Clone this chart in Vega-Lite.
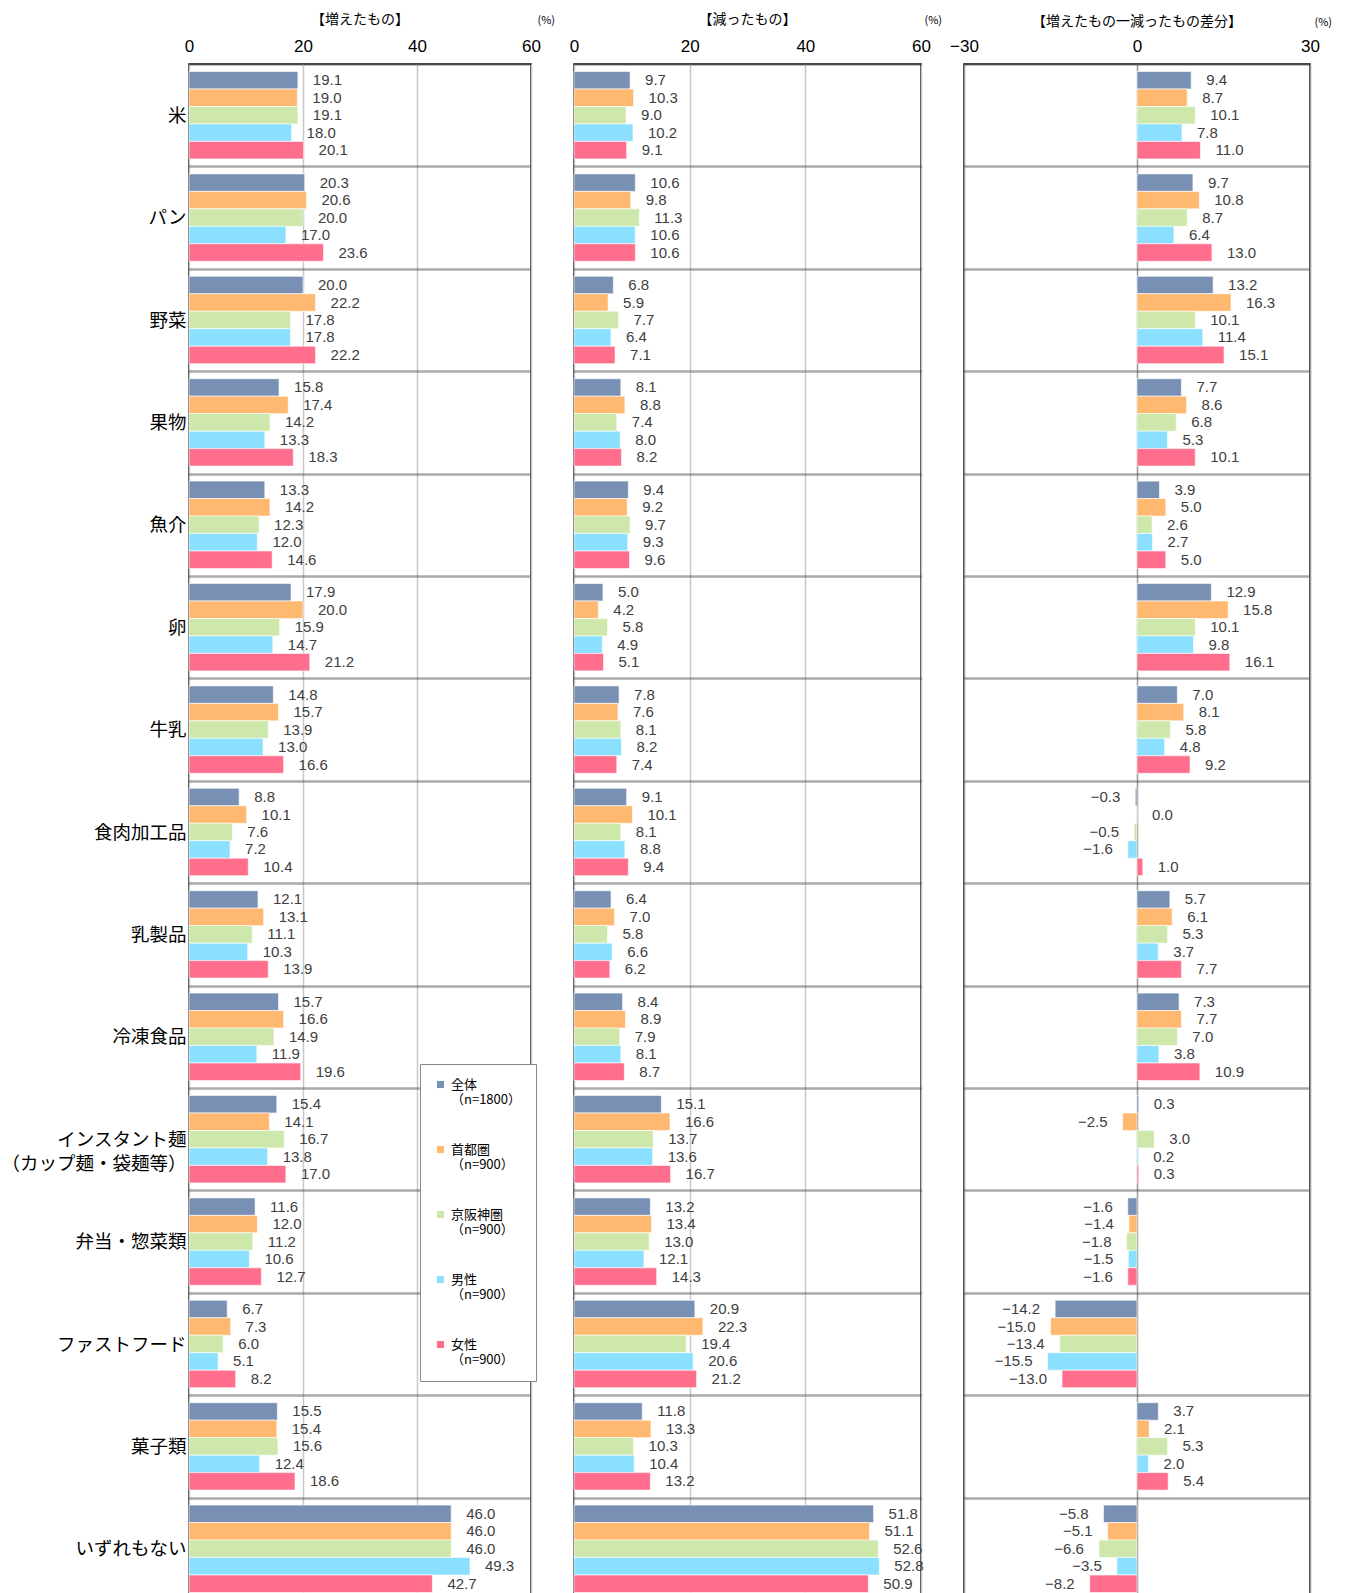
{
"$schema": "https://vega.github.io/schema/vega-lite/v6.json",
"padding": {"left": 0, "top": 12, "right": 5, "bottom": 0},
"bounds": "flush",
"spacing": 43,
"config": {
  "view": {"stroke": "#000", "strokeWidth": 1.5},
  "font": "Noto Sans CJK JP",
  "axisX": {"labelFont": "Liberation Sans", "labelFontSize": 17, "labelColor": "#000", "ticks": false, "domain": false, "labelPadding": 9, "grid": true, "gridColor": "#c8c8c8", "gridWidth": 1.5, "orient": "top", "labelFlush": false, "titleFontSize": 11, "titleFontWeight": "normal", "titleColor": "#000", "titleAlign": "left", "titleBaseline": "middle", "titleAnchor": null},
  "axisY": {"title": null, "ticks": false, "domain": false, "grid": true, "tickBand": "extent", "gridColor": "#555", "gridDash": [1, 1], "gridWidth": 2.5},
  "title": {"fontSize": 14, "fontWeight": "normal", "color": "#000", "anchor": "middle", "offset": -13},
  "text": {"font": "Liberation Sans", "fontSize": 15, "color": "#404040", "baseline": "middle"}
},
"resolve": {"scale": {"x": "independent", "y": "independent", "color": "independent", "yOffset": "independent"}},
"datasets": {
"inc": [
{"cat":"米","grp":"全体","val":19.1},{"cat":"米","grp":"首都圏","val":19.0},{"cat":"米","grp":"京阪神圏","val":19.1},{"cat":"米","grp":"男性","val":18.0},{"cat":"米","grp":"女性","val":20.1},
{"cat":"パン","grp":"全体","val":20.3},{"cat":"パン","grp":"首都圏","val":20.6},{"cat":"パン","grp":"京阪神圏","val":20.0},{"cat":"パン","grp":"男性","val":17.0},{"cat":"パン","grp":"女性","val":23.6},
{"cat":"野菜","grp":"全体","val":20.0},{"cat":"野菜","grp":"首都圏","val":22.2},{"cat":"野菜","grp":"京阪神圏","val":17.8},{"cat":"野菜","grp":"男性","val":17.8},{"cat":"野菜","grp":"女性","val":22.2},
{"cat":"果物","grp":"全体","val":15.8},{"cat":"果物","grp":"首都圏","val":17.4},{"cat":"果物","grp":"京阪神圏","val":14.2},{"cat":"果物","grp":"男性","val":13.3},{"cat":"果物","grp":"女性","val":18.3},
{"cat":"魚介","grp":"全体","val":13.3},{"cat":"魚介","grp":"首都圏","val":14.2},{"cat":"魚介","grp":"京阪神圏","val":12.3},{"cat":"魚介","grp":"男性","val":12.0},{"cat":"魚介","grp":"女性","val":14.6},
{"cat":"卵","grp":"全体","val":17.9},{"cat":"卵","grp":"首都圏","val":20.0},{"cat":"卵","grp":"京阪神圏","val":15.9},{"cat":"卵","grp":"男性","val":14.7},{"cat":"卵","grp":"女性","val":21.2},
{"cat":"牛乳","grp":"全体","val":14.8},{"cat":"牛乳","grp":"首都圏","val":15.7},{"cat":"牛乳","grp":"京阪神圏","val":13.9},{"cat":"牛乳","grp":"男性","val":13.0},{"cat":"牛乳","grp":"女性","val":16.6},
{"cat":"食肉加工品","grp":"全体","val":8.8},{"cat":"食肉加工品","grp":"首都圏","val":10.1},{"cat":"食肉加工品","grp":"京阪神圏","val":7.6},{"cat":"食肉加工品","grp":"男性","val":7.2},{"cat":"食肉加工品","grp":"女性","val":10.4},
{"cat":"乳製品","grp":"全体","val":12.1},{"cat":"乳製品","grp":"首都圏","val":13.1},{"cat":"乳製品","grp":"京阪神圏","val":11.1},{"cat":"乳製品","grp":"男性","val":10.3},{"cat":"乳製品","grp":"女性","val":13.9},
{"cat":"冷凍食品","grp":"全体","val":15.7},{"cat":"冷凍食品","grp":"首都圏","val":16.6},{"cat":"冷凍食品","grp":"京阪神圏","val":14.9},{"cat":"冷凍食品","grp":"男性","val":11.9},{"cat":"冷凍食品","grp":"女性","val":19.6},
{"cat":"インスタント麺|（カップ麺・袋麺等）","grp":"全体","val":15.4},{"cat":"インスタント麺|（カップ麺・袋麺等）","grp":"首都圏","val":14.1},{"cat":"インスタント麺|（カップ麺・袋麺等）","grp":"京阪神圏","val":16.7},{"cat":"インスタント麺|（カップ麺・袋麺等）","grp":"男性","val":13.8},{"cat":"インスタント麺|（カップ麺・袋麺等）","grp":"女性","val":17.0},
{"cat":"弁当・惣菜類","grp":"全体","val":11.6},{"cat":"弁当・惣菜類","grp":"首都圏","val":12.0},{"cat":"弁当・惣菜類","grp":"京阪神圏","val":11.2},{"cat":"弁当・惣菜類","grp":"男性","val":10.6},{"cat":"弁当・惣菜類","grp":"女性","val":12.7},
{"cat":"ファストフード","grp":"全体","val":6.7},{"cat":"ファストフード","grp":"首都圏","val":7.3},{"cat":"ファストフード","grp":"京阪神圏","val":6.0},{"cat":"ファストフード","grp":"男性","val":5.1},{"cat":"ファストフード","grp":"女性","val":8.2},
{"cat":"菓子類","grp":"全体","val":15.5},{"cat":"菓子類","grp":"首都圏","val":15.4},{"cat":"菓子類","grp":"京阪神圏","val":15.6},{"cat":"菓子類","grp":"男性","val":12.4},{"cat":"菓子類","grp":"女性","val":18.6},
{"cat":"いずれもない","grp":"全体","val":46.0},{"cat":"いずれもない","grp":"首都圏","val":46.0},{"cat":"いずれもない","grp":"京阪神圏","val":46.0},{"cat":"いずれもない","grp":"男性","val":49.3},{"cat":"いずれもない","grp":"女性","val":42.7}
],
"dec": [
{"cat":"米","grp":"全体","val":9.7},{"cat":"米","grp":"首都圏","val":10.3},{"cat":"米","grp":"京阪神圏","val":9.0},{"cat":"米","grp":"男性","val":10.2},{"cat":"米","grp":"女性","val":9.1},
{"cat":"パン","grp":"全体","val":10.6},{"cat":"パン","grp":"首都圏","val":9.8},{"cat":"パン","grp":"京阪神圏","val":11.3},{"cat":"パン","grp":"男性","val":10.6},{"cat":"パン","grp":"女性","val":10.6},
{"cat":"野菜","grp":"全体","val":6.8},{"cat":"野菜","grp":"首都圏","val":5.9},{"cat":"野菜","grp":"京阪神圏","val":7.7},{"cat":"野菜","grp":"男性","val":6.4},{"cat":"野菜","grp":"女性","val":7.1},
{"cat":"果物","grp":"全体","val":8.1},{"cat":"果物","grp":"首都圏","val":8.8},{"cat":"果物","grp":"京阪神圏","val":7.4},{"cat":"果物","grp":"男性","val":8.0},{"cat":"果物","grp":"女性","val":8.2},
{"cat":"魚介","grp":"全体","val":9.4},{"cat":"魚介","grp":"首都圏","val":9.2},{"cat":"魚介","grp":"京阪神圏","val":9.7},{"cat":"魚介","grp":"男性","val":9.3},{"cat":"魚介","grp":"女性","val":9.6},
{"cat":"卵","grp":"全体","val":5.0},{"cat":"卵","grp":"首都圏","val":4.2},{"cat":"卵","grp":"京阪神圏","val":5.8},{"cat":"卵","grp":"男性","val":4.9},{"cat":"卵","grp":"女性","val":5.1},
{"cat":"牛乳","grp":"全体","val":7.8},{"cat":"牛乳","grp":"首都圏","val":7.6},{"cat":"牛乳","grp":"京阪神圏","val":8.1},{"cat":"牛乳","grp":"男性","val":8.2},{"cat":"牛乳","grp":"女性","val":7.4},
{"cat":"食肉加工品","grp":"全体","val":9.1},{"cat":"食肉加工品","grp":"首都圏","val":10.1},{"cat":"食肉加工品","grp":"京阪神圏","val":8.1},{"cat":"食肉加工品","grp":"男性","val":8.8},{"cat":"食肉加工品","grp":"女性","val":9.4},
{"cat":"乳製品","grp":"全体","val":6.4},{"cat":"乳製品","grp":"首都圏","val":7.0},{"cat":"乳製品","grp":"京阪神圏","val":5.8},{"cat":"乳製品","grp":"男性","val":6.6},{"cat":"乳製品","grp":"女性","val":6.2},
{"cat":"冷凍食品","grp":"全体","val":8.4},{"cat":"冷凍食品","grp":"首都圏","val":8.9},{"cat":"冷凍食品","grp":"京阪神圏","val":7.9},{"cat":"冷凍食品","grp":"男性","val":8.1},{"cat":"冷凍食品","grp":"女性","val":8.7},
{"cat":"インスタント麺|（カップ麺・袋麺等）","grp":"全体","val":15.1},{"cat":"インスタント麺|（カップ麺・袋麺等）","grp":"首都圏","val":16.6},{"cat":"インスタント麺|（カップ麺・袋麺等）","grp":"京阪神圏","val":13.7},{"cat":"インスタント麺|（カップ麺・袋麺等）","grp":"男性","val":13.6},{"cat":"インスタント麺|（カップ麺・袋麺等）","grp":"女性","val":16.7},
{"cat":"弁当・惣菜類","grp":"全体","val":13.2},{"cat":"弁当・惣菜類","grp":"首都圏","val":13.4},{"cat":"弁当・惣菜類","grp":"京阪神圏","val":13.0},{"cat":"弁当・惣菜類","grp":"男性","val":12.1},{"cat":"弁当・惣菜類","grp":"女性","val":14.3},
{"cat":"ファストフード","grp":"全体","val":20.9},{"cat":"ファストフード","grp":"首都圏","val":22.3},{"cat":"ファストフード","grp":"京阪神圏","val":19.4},{"cat":"ファストフード","grp":"男性","val":20.6},{"cat":"ファストフード","grp":"女性","val":21.2},
{"cat":"菓子類","grp":"全体","val":11.8},{"cat":"菓子類","grp":"首都圏","val":13.3},{"cat":"菓子類","grp":"京阪神圏","val":10.3},{"cat":"菓子類","grp":"男性","val":10.4},{"cat":"菓子類","grp":"女性","val":13.2},
{"cat":"いずれもない","grp":"全体","val":51.8},{"cat":"いずれもない","grp":"首都圏","val":51.1},{"cat":"いずれもない","grp":"京阪神圏","val":52.6},{"cat":"いずれもない","grp":"男性","val":52.8},{"cat":"いずれもない","grp":"女性","val":50.9}
],
"diff": [
{"cat":"米","grp":"全体","val":9.4},{"cat":"米","grp":"首都圏","val":8.7},{"cat":"米","grp":"京阪神圏","val":10.1},{"cat":"米","grp":"男性","val":7.8},{"cat":"米","grp":"女性","val":11.0},
{"cat":"パン","grp":"全体","val":9.7},{"cat":"パン","grp":"首都圏","val":10.8},{"cat":"パン","grp":"京阪神圏","val":8.7},{"cat":"パン","grp":"男性","val":6.4},{"cat":"パン","grp":"女性","val":13.0},
{"cat":"野菜","grp":"全体","val":13.2},{"cat":"野菜","grp":"首都圏","val":16.3},{"cat":"野菜","grp":"京阪神圏","val":10.1},{"cat":"野菜","grp":"男性","val":11.4},{"cat":"野菜","grp":"女性","val":15.1},
{"cat":"果物","grp":"全体","val":7.7},{"cat":"果物","grp":"首都圏","val":8.6},{"cat":"果物","grp":"京阪神圏","val":6.8},{"cat":"果物","grp":"男性","val":5.3},{"cat":"果物","grp":"女性","val":10.1},
{"cat":"魚介","grp":"全体","val":3.9},{"cat":"魚介","grp":"首都圏","val":5.0},{"cat":"魚介","grp":"京阪神圏","val":2.6},{"cat":"魚介","grp":"男性","val":2.7},{"cat":"魚介","grp":"女性","val":5.0},
{"cat":"卵","grp":"全体","val":12.9},{"cat":"卵","grp":"首都圏","val":15.8},{"cat":"卵","grp":"京阪神圏","val":10.1},{"cat":"卵","grp":"男性","val":9.8},{"cat":"卵","grp":"女性","val":16.1},
{"cat":"牛乳","grp":"全体","val":7.0},{"cat":"牛乳","grp":"首都圏","val":8.1},{"cat":"牛乳","grp":"京阪神圏","val":5.8},{"cat":"牛乳","grp":"男性","val":4.8},{"cat":"牛乳","grp":"女性","val":9.2},
{"cat":"食肉加工品","grp":"全体","val":-0.3},{"cat":"食肉加工品","grp":"首都圏","val":0.0},{"cat":"食肉加工品","grp":"京阪神圏","val":-0.5},{"cat":"食肉加工品","grp":"男性","val":-1.6},{"cat":"食肉加工品","grp":"女性","val":1.0},
{"cat":"乳製品","grp":"全体","val":5.7},{"cat":"乳製品","grp":"首都圏","val":6.1},{"cat":"乳製品","grp":"京阪神圏","val":5.3},{"cat":"乳製品","grp":"男性","val":3.7},{"cat":"乳製品","grp":"女性","val":7.7},
{"cat":"冷凍食品","grp":"全体","val":7.3},{"cat":"冷凍食品","grp":"首都圏","val":7.7},{"cat":"冷凍食品","grp":"京阪神圏","val":7.0},{"cat":"冷凍食品","grp":"男性","val":3.8},{"cat":"冷凍食品","grp":"女性","val":10.9},
{"cat":"インスタント麺|（カップ麺・袋麺等）","grp":"全体","val":0.3},{"cat":"インスタント麺|（カップ麺・袋麺等）","grp":"首都圏","val":-2.5},{"cat":"インスタント麺|（カップ麺・袋麺等）","grp":"京阪神圏","val":3.0},{"cat":"インスタント麺|（カップ麺・袋麺等）","grp":"男性","val":0.2},{"cat":"インスタント麺|（カップ麺・袋麺等）","grp":"女性","val":0.3},
{"cat":"弁当・惣菜類","grp":"全体","val":-1.6},{"cat":"弁当・惣菜類","grp":"首都圏","val":-1.4},{"cat":"弁当・惣菜類","grp":"京阪神圏","val":-1.8},{"cat":"弁当・惣菜類","grp":"男性","val":-1.5},{"cat":"弁当・惣菜類","grp":"女性","val":-1.6},
{"cat":"ファストフード","grp":"全体","val":-14.2},{"cat":"ファストフード","grp":"首都圏","val":-15.0},{"cat":"ファストフード","grp":"京阪神圏","val":-13.4},{"cat":"ファストフード","grp":"男性","val":-15.5},{"cat":"ファストフード","grp":"女性","val":-13.0},
{"cat":"菓子類","grp":"全体","val":3.7},{"cat":"菓子類","grp":"首都圏","val":2.1},{"cat":"菓子類","grp":"京阪神圏","val":5.3},{"cat":"菓子類","grp":"男性","val":2.0},{"cat":"菓子類","grp":"女性","val":5.4},
{"cat":"いずれもない","grp":"全体","val":-5.8},{"cat":"いずれもない","grp":"首都圏","val":-5.1},{"cat":"いずれもない","grp":"京阪神圏","val":-6.6},{"cat":"いずれもない","grp":"男性","val":-3.5},{"cat":"いずれもない","grp":"女性","val":-8.2}
]
},
"hconcat": [
{
  "width": 342, "height": 1536,
  "data": {"name": "inc"},
  "title": {"text": "【増えたもの】"},
  "encoding": {
    "y": {"field": "cat", "type": "nominal", "sort": null, "scale": {"paddingInner": 0, "paddingOuter": 0},
      "axis": {"labels": true, "labelFontSize": 18.5, "labelColor": "#000", "labelPadding": 3, "labelExpr": "isValid(datum.value) ? split(datum.value, '|') : ''", "labelLineHeight": 24, "labelLimit": 300}},
    "yOffset": {"field": "grp", "sort": ["全体", "首都圏", "京阪神圏", "男性", "女性"], "scale": {"paddingInner": 0, "paddingOuter": 0.43}},
    "x": {"field": "val", "type": "quantitative", "scale": {"domain": [0, 60], "nice": false},
      "axis": {"values": [0, 20, 40, 60], "title": "(%)", "titleX": 348, "titleY": -44}}
  },
  "layer": [
    {"mark": {"type": "bar", "stroke": "#ffffff", "strokeWidth": 0.6},
     "encoding": {"color": {"field": "grp", "type": "nominal",
       "scale": {"domain": ["全体", "首都圏", "京阪神圏", "男性", "女性"], "range": ["#7990B5", "#FFB870", "#CDE8AA", "#8CE0FF", "#FF6E8C"]},
       "legend": {"orient": "none", "legendX": 231, "legendY": 1000, "title": null, "direction": "vertical",
         "labelExpr": "datum.value == '全体' ? ['全体', '（n=1800）'] : [datum.value, '（n=900）']",
         "labelFontSize": 13, "labelLineHeight": 20, "labelColor": "#000", "labelLimit": 200, "labelOffset": 4,
         "symbolType": "square", "symbolSize": 50, "symbolStrokeWidth": 0,
         "rowPadding": 36, "padding": 14, "strokeColor": "#888", "fillColor": "#fff", "cornerRadius": 0}}}},
    {"transform": [{"filter": "datum.val >= 0"}],
     "mark": {"type": "text", "align": "left", "dx": 15},
     "encoding": {"text": {"field": "val", "type": "quantitative", "format": ".1f"}}}
  ]
},
{
  "width": 347, "height": 1536,
  "data": {"name": "dec"},
  "title": {"text": "【減ったもの】"},
  "encoding": {
    "y": {"field": "cat", "type": "nominal", "sort": null, "scale": {"paddingInner": 0, "paddingOuter": 0},
      "axis": {"labels": false}},
    "yOffset": {"field": "grp", "sort": ["全体", "首都圏", "京阪神圏", "男性", "女性"], "scale": {"paddingInner": 0, "paddingOuter": 0.43}},
    "x": {"field": "val", "type": "quantitative", "scale": {"domain": [0, 60], "nice": false},
      "axis": {"values": [0, 20, 40, 60], "title": "(%)", "titleX": 350, "titleY": -44}}
  },
  "layer": [
    {"mark": {"type": "bar", "stroke": "#ffffff", "strokeWidth": 0.6},
     "encoding": {"color": {"field": "grp", "type": "nominal",
       "scale": {"domain": ["全体", "首都圏", "京阪神圏", "男性", "女性"], "range": ["#7990B5", "#FFB870", "#CDE8AA", "#8CE0FF", "#FF6E8C"]},
       "legend": null}}},
    {"transform": [{"filter": "datum.val >= 0"}],
     "mark": {"type": "text", "align": "left", "dx": 15},
     "encoding": {"text": {"field": "val", "type": "quantitative", "format": ".1f"}}}
  ]
},
{
  "width": 346, "height": 1536,
  "data": {"name": "diff"},
  "title": {"text": "【増えたもの一減ったもの差分】"},
  "encoding": {
    "y": {"field": "cat", "type": "nominal", "sort": null, "scale": {"paddingInner": 0, "paddingOuter": 0},
      "axis": {"labels": false}},
    "yOffset": {"field": "grp", "sort": ["全体", "首都圏", "京阪神圏", "男性", "女性"], "scale": {"paddingInner": 0, "paddingOuter": 0.43}},
    "x": {"field": "val", "type": "quantitative", "scale": {"domain": [-30, 30], "nice": false},
      "axis": {"values": [-30, 0, 30], "title": "(%)", "titleX": 350, "titleY": -42, "gridColor": "#999"}}
  },
  "layer": [
    {"mark": {"type": "bar", "stroke": "#ffffff", "strokeWidth": 0.6},
     "encoding": {"color": {"field": "grp", "type": "nominal",
       "scale": {"domain": ["全体", "首都圏", "京阪神圏", "男性", "女性"], "range": ["#7990B5", "#FFB870", "#CDE8AA", "#8CE0FF", "#FF6E8C"]},
       "legend": null}}},
    {"transform": [{"filter": "datum.val >= 0"}],
     "mark": {"type": "text", "align": "left", "dx": 15},
     "encoding": {"text": {"field": "val", "type": "quantitative", "format": ".1f"}}},
    {"transform": [{"filter": "datum.val < 0"}],
     "mark": {"type": "text", "align": "right", "dx": -15},
     "encoding": {"text": {"field": "val", "type": "quantitative", "format": ".1f"}}}
  ]
}
]
}
